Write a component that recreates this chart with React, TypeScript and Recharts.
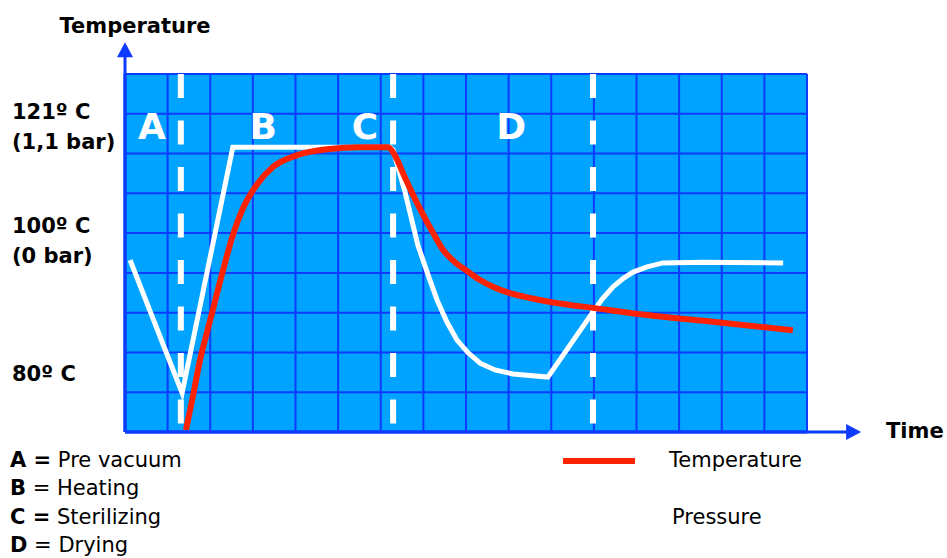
import { LineChart, Line, XAxis, YAxis, CartesianGrid, ReferenceLine, ReferenceDot } from 'recharts';

// time is in grid columns, level is in grid rows (the picture has no numeric scale)
const gridColumns = [0, 1, 2, 3, 4, 5, 6, 7, 8, 9, 10, 11, 12, 13, 14, 15, 16];
const gridRows = [0, 1, 2, 3, 4, 5, 6, 7, 8, 9];

const yTickValues = [7.67, 4.8, 1.46];
const yTickLines = [['121º C', '(1,1 bar)'], ['100º C', '(0 bar)'], ['80º C']];

const phaseNames = ['A', 'B', 'C', 'D'];
const phaseLabelTime = [0.63, 3.24, 5.63, 9.06];
const phaseLabelLevel = 7.37;
const phaseBounds = [1.31, 6.29, 10.98];

const phaseLegendKey = ['A =', 'B', 'C =', 'D'];
const phaseLegendText = [' Pre vacuum', ' = Heating', ' Sterilizing', ' = Drying'];

const pressureTime = [0.12, 1.34, 2.53, 6.22, 6.29, 6.57, 6.87, 7.11, 7.32, 7.55, 7.79, 8.05, 8.33, 8.68, 9.1, 9.92, 10.96, 11.2, 11.45, 11.7, 11.92, 12.25, 12.62, 13.56, 15.44];
const pressureLevel = [4.32, 0.98, 7.16, 7.16, 7.09, 6.03, 4.7, 3.95, 3.32, 2.77, 2.31, 1.99, 1.73, 1.56, 1.46, 1.38, 2.99, 3.35, 3.65, 3.87, 4.02, 4.15, 4.25, 4.27, 4.25];

const temperatureTime = [1.43, 1.6, 1.76, 1.92, 2.06, 2.21, 2.35, 2.53, 2.77, 3.1, 3.47, 4.04, 4.74, 5.51, 6.17, 6.33, 6.52, 6.85, 7.23, 7.46, 7.74, 8.02, 8.33, 8.63, 9.03, 9.5, 10.28, 10.98, 12.25, 13.79, 15.67];
const temperatureLevel = [0.05, 0.93, 1.81, 2.49, 3.07, 3.7, 4.27, 4.95, 5.63, 6.23, 6.66, 6.96, 7.11, 7.16, 7.16, 6.96, 6.51, 5.76, 5.0, 4.58, 4.27, 4.05, 3.82, 3.65, 3.49, 3.37, 3.22, 3.12, 2.94, 2.77, 2.56];

const seriesNames = ['Temperature', 'Pressure'];
const seriesColors = ['#ff2200', '#ffffff'];

const BLUE = '#0d3bff';
const FILL = '#00a3ff';
const FONT = '"DejaVu Sans", Verdana, sans-serif';

const pressureData = pressureTime.map((t, i) => ({ time: t, level: pressureLevel[i] }));
const temperatureData = temperatureTime.map((t, i) => ({ time: t, level: temperatureLevel[i] }));

const YTick = ({ y, payload }: any) => {
  const idx = yTickValues.indexOf(payload.value);
  const lines = yTickLines[idx] ?? [];
  const n = lines.length;
  return (
    <g>
      {lines.map((l, i) => (
        <text key={i} x={12} y={y + 7 + (i - (n - 1) / 2) * 29.5} fontFamily={FONT} fontWeight="bold" fontSize={21} fill="#000">
          {l}
        </text>
      ))}
    </g>
  );
};

const ArrowUp = ({ cx, cy }: any) => (
  <polygon points={`${cx},${cy} ${cx - 8},${cy + 15} ${cx + 8},${cy + 15}`} fill={BLUE} />
);
const ArrowRight = ({ cx, cy }: any) => (
  <polygon points={`${cx},${cy} ${cx - 15},${cy - 8} ${cx - 15},${cy + 8}`} fill={BLUE} />
);

export default function App() {
  return (
    <div style={{ position: 'absolute', left: 0, top: 0, width: 947, height: 558, background: '#fff' }}>
      <LineChart width={947} height={558} margin={{ top: 74, right: 140, bottom: 96, left: 0 }}>
        <CartesianGrid horizontal={false} vertical={false} fill={FILL} fillOpacity={1} />
        <XAxis
          dataKey="time"
          type="number"
          domain={[0, 16]}
          ticks={gridColumns}
          tick={false}
          tickLine={false}
          height={30}
          axisLine={{ stroke: BLUE, strokeWidth: 3 }}
        />
        <YAxis
          type="number"
          domain={[0, 9]}
          ticks={yTickValues}
          width={125}
          tickLine={false}
          tick={<YTick />}
          axisLine={{ stroke: BLUE, strokeWidth: 3 }}
        />
        {gridRows.map((r) => (
          <ReferenceLine key={'r' + r} y={r} stroke={BLUE} strokeWidth={2} />
        ))}
        {gridColumns.map((c) => (
          <ReferenceLine key={'c' + c} x={c} stroke={BLUE} strokeWidth={2} />
        ))}
        {phaseBounds.map((b) => (
          <ReferenceLine
            key={b}
            segment={[{ x: b, y: 9 }, { x: b, y: 0.15 }]}
            stroke="#fff"
            strokeWidth={6}
            strokeDasharray="24 22.5"
          />
        ))}
        {phaseNames.map((p, i) => (
          <ReferenceDot
            key={p}
            x={phaseLabelTime[i]}
            y={phaseLabelLevel}
            r={0}
            shape={({ cx, cy }: any) => (
              <text x={cx} y={cy} textAnchor="middle" fontFamily={FONT} fontWeight="bold" fontSize={36} fill="#fff">
                {p}
              </text>
            )}
          />
        ))}
        <ReferenceLine segment={[{ x: 0, y: 0 }, { x: 0, y: 9.6 }]} ifOverflow="visible" stroke={BLUE} strokeWidth={3} />
        <ReferenceLine segment={[{ x: 0, y: 0 }, { x: 17, y: 0 }]} ifOverflow="visible" stroke={BLUE} strokeWidth={3} />
        <ReferenceDot x={0} y={9.8} ifOverflow="visible" r={0} shape={<ArrowUp />} />
        <ReferenceDot x={17.27} y={0} ifOverflow="visible" r={0} shape={<ArrowRight />} />
        <Line
          data={pressureData}
          dataKey="level"
          name={seriesNames[1]}
          type="linear"
          stroke={seriesColors[1]}
          strokeWidth={5}
          dot={false}
          isAnimationActive={false}
        />
        <Line
          data={temperatureData}
          dataKey="level"
          name={seriesNames[0]}
          type="monotone"
          stroke={seriesColors[0]}
          strokeWidth={6}
          dot={false}
          isAnimationActive={false}
        />
      </LineChart>
      <svg width={947} height={558} style={{ position: 'absolute', left: 0, top: 0, pointerEvents: 'none' }}>
        <text x={135} y={33} textAnchor="middle" fontFamily={FONT} fontWeight="bold" fontSize={21}>
          Temperature
        </text>
        <text x={886} y={438} fontFamily={FONT} fontWeight="bold" fontSize={21}>
          Time
        </text>
        {phaseLegendKey.map((k, i) => (
          <text key={k} x={10} y={467 + i * 28.4} fontFamily={FONT} fontSize={21}>
            <tspan fontWeight="bold">{k}</tspan>
            <tspan>{phaseLegendText[i]}</tspan>
          </text>
        ))}
        {seriesNames.map((s, i) => (
          <g key={s}>
            <rect x={563} y={458 + i * 57} width={72} height={6} fill={seriesColors[i]} />
            <text x={669 + i * 3} y={467 + i * 57} fontFamily={FONT} fontSize={21}>
              {s}
            </text>
          </g>
        ))}
      </svg>
    </div>
  );
}
